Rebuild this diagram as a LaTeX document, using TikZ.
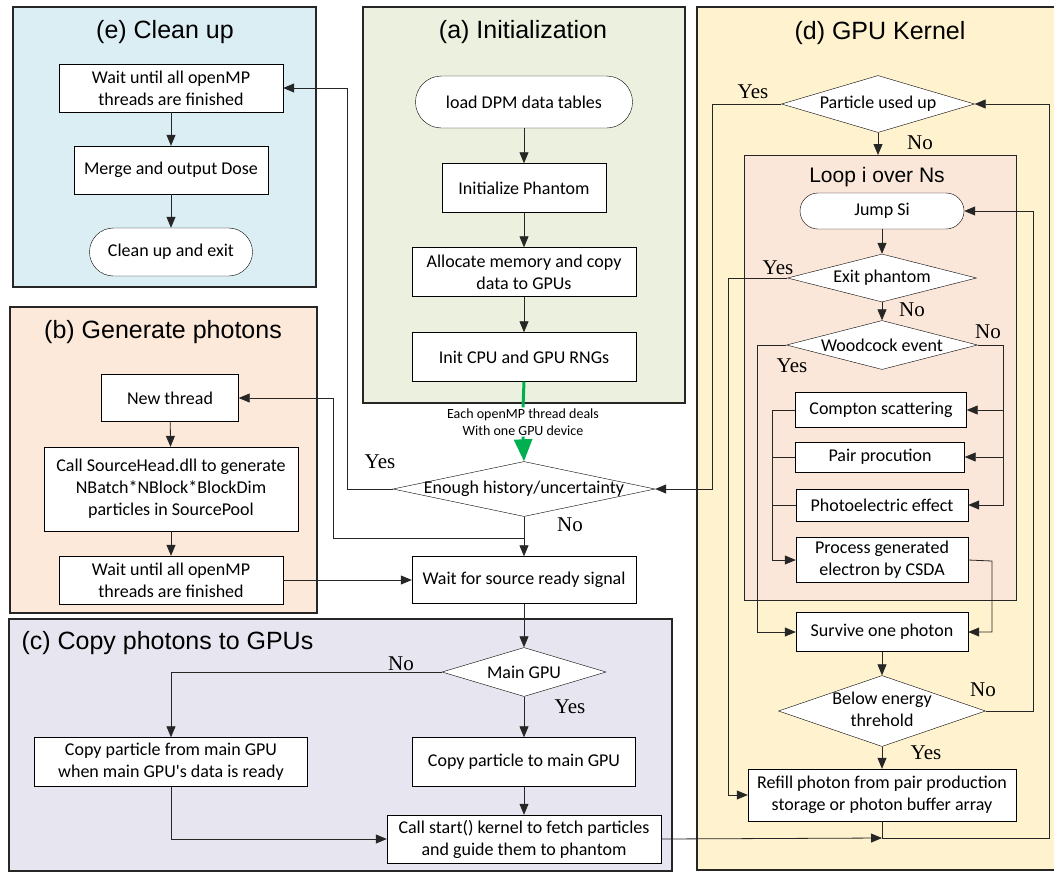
\documentclass[tikz,border=0pt]{standalone}
\usepackage{fontspec}
\setmainfont{Carlito}[Ligatures=TeXOff]
\newfontfamily\headfont{Liberation Sans}
\newfontfamily\ynfont{Liberation Serif}
\usetikzlibrary{arrows.meta,shapes.geometric,positioning}
\definecolor{cleanblue}{RGB}{218,238,243}
\definecolor{initgreen}{RGB}{235,241,222}
\definecolor{genpeach}{RGB}{252,233,218}
\definecolor{copylilac}{RGB}{231,229,239}
\definecolor{kernelyellow}{RGB}{255,242,206}
\definecolor{looppeach}{RGB}{251,231,217}
\definecolor{threadgreen}{RGB}{0,176,80}

\begin{document}
\begin{tikzpicture}[x=1pt,y=-1pt,
    every node/.style={font=\fontsize{18}{22}\selectfont},
    panel/.style={draw=black!85,line width=1.4pt},
    ptitle/.style={font=\headfont\fontsize{25}{29}\selectfont},
    box/.style={draw,fill=white,inner sep=1pt,align=center},
    term/.style={box,rounded corners=#1},
    decision/.style={diamond,draw,fill=white,inner sep=0pt},
    yn/.style={font=\ynfont\fontsize{21}{25}\selectfont},
    link/.style={draw=black!85,line width=0.8pt},
    arr/.style={link,-{Triangle[length=11pt,width=9pt]}}]
    \useasboundingbox (0,0) rectangle (1054,873);
    \fill[white] (0,0) rectangle (1054,873);

    \draw[panel,fill=cleanblue] (13,7) rectangle (316,287);
    \draw[panel,fill=initgreen] (363,7) rectangle (685,403);
    \draw[panel,fill=genpeach] (10,307) rectangle (317,613);
    \draw[panel,fill=copylilac] (9,619) rectangle (672,871);
    \fill[kernelyellow] (697,7) rectangle (1056,870);
    \draw[panel] (1056,7) -- (697,7) -- (697,870) -- (1056,870);
    \draw[link,fill=looppeach] (744,155) rectangle (1016,600);

    \node[ptitle] (etitle) at (165,32) {(e) Clean up};
    \node[ptitle] (atitle) at (523,32) {(a) Initialization};
    \node[ptitle] (btitle) at (163,332) {(b) Generate photons};
    \node[ptitle,anchor=west] (ctitle) at (18,643) {(c) Copy photons to GPUs};
    \node[ptitle] (dtitle) at (880,33) {(d) GPU Kernel};
    \node[font=\headfont\fontsize{21}{25}\selectfont] (looptitle) at (877,177) {Loop i over Ns};

    \node[box,minimum width=224pt,minimum height=48pt] (waite) at (171,88) {Wait until all openMP\\threads are finished};
    \node[box,minimum width=194pt,minimum height=48pt] (merge) at (171,170) {Merge and output Dose};
    \node[term=24pt,minimum width=163pt,minimum height=48pt] (cleanexit) at (171,252) {Clean up and exit};

    \node[term=26pt,minimum width=217pt,minimum height=52pt] (load) at (524,102) {load DPM data tables};
    \node[box,minimum width=164pt,minimum height=49pt] (phantom) at (524,188) {Initialize Phantom};
    \node[box,minimum width=224pt,minimum height=49pt] (alloc) at (524,272) {Allocate memory and copy\\data to GPUs};
    \node[box,minimum width=224pt,minimum height=49pt] (rng) at (524,357) {Init CPU and GPU RNGs};
    \node[font=\fontsize{14}{17}\selectfont,align=center,inner sep=1pt] (note) at (523,422) {Each openMP thread deals\\With one GPU device};
    \node[decision,minimum width=262pt,minimum height=55pt] (enough) at (524,489) {\makebox[0pt]{Enough history/uncertainty}};

    \node[box,minimum width=137pt,minimum height=47pt] (newthr) at (170,398) {New thread};
    \node[box,minimum width=254pt,minimum height=84pt] (callsrc) at (171,489) {Call SourceHead.dll to generate\\NBatch*NBlock*BlockDim\\particles in SourcePool};
    \node[box,minimum width=224pt,minimum height=48pt] (waitb) at (171,580) {Wait until all openMP\\threads are finished};
    \node[box,minimum width=224pt,minimum height=47pt] (waitsrc) at (524,580) {Wait for source ready signal};

    \node[decision,minimum width=164pt,minimum height=49pt] (maingpu) at (524,672) {\makebox[0pt]{Main GPU}};
    \node[box,minimum width=273pt,minimum height=49pt] (copyfrom) at (171,762) {Copy particle from main GPU\\when main GPU's data is ready};
    \node[box,minimum width=223pt,minimum height=49pt] (copyto) at (524,762) {Copy particle to main GPU};
    \node[box,minimum width=274pt,minimum height=48pt] (start) at (524,839) {Call start() kernel to fetch particles\\and guide them to phantom};

    \node[decision,minimum width=193pt,minimum height=57pt] (usedup) at (878,104) {\makebox[0pt]{Particle used up}};
    \node[term=18pt,minimum width=164pt,minimum height=36pt] (jump) at (882,211) {Jump Si};
    \node[decision,minimum width=189pt,minimum height=48pt] (exitph) at (882,278) {\makebox[0pt]{Exit phantom}};
    \node[decision,minimum width=191pt,minimum height=49pt] (wood) at (882,345) {\makebox[0pt]{Woodcock event}};
    \node[box,minimum width=171pt,minimum height=35pt] (compton) at (881,410) {Compton scattering};
    \node[box,minimum width=169pt,minimum height=30pt] (pair) at (880,457) {Pair procution};
    \node[box,minimum width=172pt,minimum height=32pt] (photo) at (882,505) {Photoelectric effect};
    \node[box,minimum width=172pt,minimum height=45pt] (csda) at (882,560) {Process generated\\electron by CSDA};
    \node[box,minimum width=172pt,minimum height=39pt] (survive) at (882,632) {Survive one photon};
    \node[decision,minimum width=207pt,minimum height=71pt] (below) at (882,711) {\makebox[0pt]{\begin{tabular}{@{}c@{}}Below energy\\threhold\end{tabular}}};
    \node[box,minimum width=268pt,minimum height=52pt] (refill) at (882,795) {Refill photon from pair production\\storage or photon buffer array};

    \coordinate (yesturn) at (347,489);
    \coordinate (nojoin) at (524,538);
    \coordinate (newturn) at (333,538);
    \coordinate (kjoin) at (882,838);
    \coordinate (kright) at (1049,838);
    \coordinate (usedturn) at (712,489);
    \coordinate (exitturn) at (728,795);
    \coordinate (woodright) at (1003,345);
    \coordinate (woodleft) at (757,345);
    \coordinate (scatleft) at (772,410);
    \coordinate (csdaright) at (992,561);
    \coordinate (belowright) at (1033,711);

    \draw[arr] (waite) -- (merge);
    \draw[arr] (merge) -- (cleanexit);
    \draw[arr] (load) -- (phantom);
    \draw[arr] (phantom) -- (alloc);
    \draw[arr] (alloc) -- (rng);
    \draw[threadgreen,line width=3pt] (rng.south) -- (note.north);
    \draw[threadgreen,line width=3pt,-{Triangle[length=22pt,width=18pt]}] (note.south) -- (enough.north);
    \draw[arr] (enough.west) -- (yesturn) |- (waite.east);
    \draw[arr] (enough.south) -- (waitsrc.north);
    \draw[arr] (nojoin) -- (newturn) |- (newthr.east);
    \draw[arr] (newthr) -- (callsrc);
    \draw[arr] (callsrc) -- (waitb);
    \draw[arr] (waitb.east) -- (waitsrc.west);
    \draw[arr] (waitsrc) -- (maingpu);
    \draw[arr] (maingpu.west) -| (copyfrom.north);
    \draw[arr] (maingpu) -- (copyto);
    \draw[arr] (copyto) -- (start);
    \draw[arr] (copyfrom.south) |- (start.west);
    \draw[arr] (start.east) -- (kjoin);
    \draw[arr] (refill.south) -- (kjoin) -- (kright) |- (usedup.east);
    \draw[arr] (usedup.west) -| (usedturn) -- (enough.east);
    \draw[arr] (usedup.south) -- (usedup.south |- 0,155);
    \draw[arr] (jump) -- (exitph);
    \draw[arr] (exitph.west) -| (exitturn) -- (refill.west);
    \draw[arr] (exitph) -- (wood);
    \draw[arr] (wood.east) -- (woodright) |- (photo.east);
    \draw[arr] (woodright |- compton.east) -- (compton.east);
    \draw[arr] (woodright |- pair.east) -- (pair.east);
    \draw[arr] (wood.west) -- (woodleft) |- (survive.west);
    \draw[arr] (compton.west) -- (scatleft) |- (csda.west);
    \draw[link] (pair.west) -- (scatleft |- pair.west);
    \draw[link] (photo.west) -- (scatleft |- photo.west);
    \draw[arr] (csda.east) -- (csdaright) |- (survive.east);
    \draw[arr] (survive) -- (below);
    \draw[arr] (below.east) -- (belowright) |- (jump.east);
    \draw[arr] (below) -- (refill);

    \node[yn] (yesenough) at (380,462) {Yes};
    \node[yn] (noenough) at (570,525) {No};
    \node[yn] (nomain) at (401,664) {No};
    \node[yn] (yesmain) at (570,707) {Yes};
    \node[yn] (yesused) at (753,92) {Yes};
    \node[yn] (noused) at (920,143) {No};
    \node[yn] (yesexit) at (778,268) {Yes};
    \node[yn] (noexit) at (912,310) {No};
    \node[yn] (nowood) at (988,332) {No};
    \node[yn] (yeswood) at (792,366) {Yes};
    \node[yn] (nobelow) at (983,690) {No};
    \node[yn] (yesbelow) at (926,753) {Yes};
  \end{tikzpicture}
\end{document}
